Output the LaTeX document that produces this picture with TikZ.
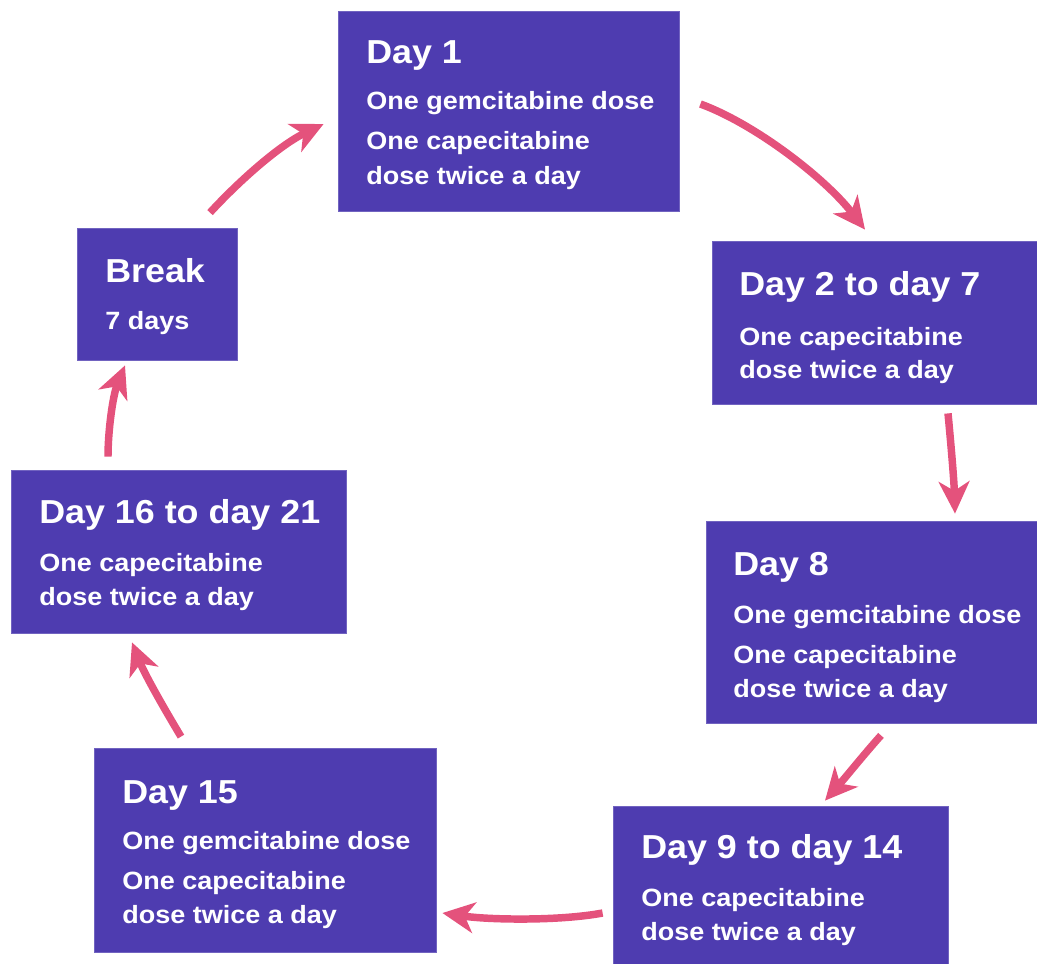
\documentclass[tikz,border=0pt]{standalone}
\usepackage{fontspec}
\setmainfont{Liberation Sans}[FakeStretch=1.08]
\usetikzlibrary{arrows.meta,calc}
\definecolor{boxblue}{HTML}{4E3CB0}
\definecolor{arrpink}{HTML}{E4527C}
\newcommand\pxu{0.75pt}
\tikzset{
  box/.style={fill=boxblue, draw=boxblue!80!white, line width=0.6pt, inner sep=0pt},
  ttl/.style={anchor=base west, inner sep=0pt, text=white, font=\fontsize{24.9}{30}\selectfont\bfseries},
  bdy/.style={anchor=base west, inner sep=0pt, text=white, font=\fontsize{18.75}{22}\selectfont\bfseries},
  arr/.style={draw=arrpink, line width=5.6pt, -{Stealth[length=24pt, width=23pt, inset=7pt]}},
}
\begin{document}
\begin{tikzpicture}[x=0.75pt, y=-0.75pt]
\useasboundingbox (0,0) rectangle (1037,963);
% boxes
\node[box, minimum width=341*\pxu, minimum height=200*\pxu] (d1) at (508.5,111) {};
\node[box, minimum width=330*\pxu, minimum height=163*\pxu] (d2) at (877,322.5) {};
\node[box, minimum width=334*\pxu, minimum height=202*\pxu] (d8) at (873,622) {};
\node[box, minimum width=335*\pxu, minimum height=160*\pxu] (d9) at (780.5,886) {};
\node[box, minimum width=342*\pxu, minimum height=204*\pxu] (d15) at (265,850) {};
\node[box, minimum width=335*\pxu, minimum height=163*\pxu] (d16) at (178.5,551.5) {};
\node[box, minimum width=160*\pxu, minimum height=132*\pxu] (brk) at (157,294) {};
% texts
\node[ttl] (d1t) at (366,64) {Day 1};
\node[bdy] (d1a) at (366,110) {One gemcitabine dose};
\node[bdy] (d1b) at (366,149) {One capecitabine};
\node[bdy] (d1c) at (366,184) {dose twice a day};

\node[ttl] (d2t) at (739,295) {Day 2 to day 7};
\node[bdy] (d2a) at (739,345) {One capecitabine};
\node[bdy] (d2b) at (739,378) {dose twice a day};

\node[ttl] (d8t) at (733,575) {Day 8};
\node[bdy] (d8a) at (733,623) {One gemcitabine dose};
\node[bdy] (d8b) at (733,663) {One capecitabine};
\node[bdy] (d8c) at (733,697) {dose twice a day};

\node[ttl] (d9t) at (641,858) {Day 9 to day 14};
\node[bdy] (d9a) at (641,906) {One capecitabine};
\node[bdy] (d9b) at (641,940) {dose twice a day};

\node[ttl] (d15t) at (122,803) {Day 15};
\node[bdy] (d15a) at (122,849) {One gemcitabine dose};
\node[bdy] (d15b) at (122,889) {One capecitabine};
\node[bdy] (d15c) at (122,923) {dose twice a day};

\node[ttl] (d16t) at (39,523) {Day 16 to day 21};
\node[bdy] (d16a) at (39,571) {One capecitabine};
\node[bdy] (d16b) at (39,605) {dose twice a day};

\node[ttl] (brkt) at (105,282) {Break};
\node[bdy] (brka) at (105,329) {7 days};
% arrows
\draw[arr] ([shift={(21,-7)}]d1.east) .. controls (755,124) and (825,178) .. ([shift={(-12,-11)}]d2.north);
\draw[arr] ([shift={(71,9)}]d2.south) .. controls (951,445) and (954,480) .. ([shift={(82,-7)}]d8.north);
\draw[arr] ([shift={(8,12)}]d8.south) .. controls (866,752) and (845,778) .. ([shift={(44.5,-5)}]d9.north);
\draw[arr] ([shift={(-10,27)}]d9.west) .. controls (560,921) and (490,920) .. ([shift={(6,63)}]d15.east);
\draw[arr] ([shift={(-84,-11)}]d15.north) .. controls (165,710) and (145,675) .. ([shift={(-46.5,9)}]d16.south);
\draw[arr] ([shift={(-70.5,-13)}]d16.north) .. controls (108,430) and (113,395) .. ([shift={(-32,5)}]brk.south);
\draw[arr] ([shift={(53,-15)}]brk.north) .. controls (240,180) and (280,145) .. ([shift={(-14,13)}]d1.west);
\end{tikzpicture}
\end{document}
